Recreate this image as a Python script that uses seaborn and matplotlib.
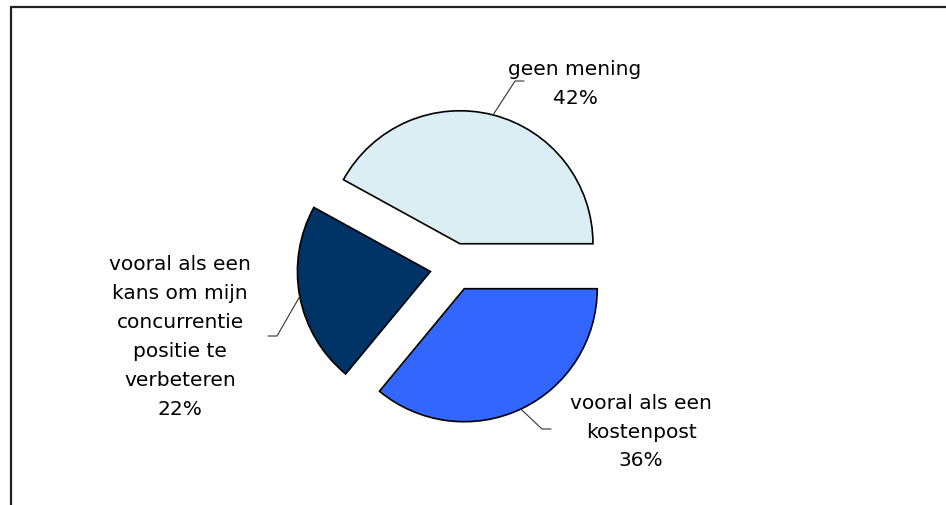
import numpy as np
import matplotlib
matplotlib.use('Agg')
import matplotlib.pyplot as plt
from matplotlib.lines import Line2D
import seaborn as sns

# data (counterclockwise from 3 o'clock)
categories = ['geen mening',
              'vooral als een\nkans om mijn\nconcurrentie\npositie te\nverbeteren',
              'vooral als een\nkostenpost']
values = [42, 22, 36]
colors = ['#DAEEF3', '#003366', '#3366FF']

sns.set_style('white')
plt.rcParams['font.family'] = ['DejaVu Sans']

W, H = 946, 505
fig = plt.figure(figsize=(W / 100, H / 100), dpi=100)
ax = fig.add_axes([0, 0, 1, 1])

# pixel-like data units, y up
center = (454, H - 267)
radius = 133
explode = [24, 24, 24]

wedges, _ = ax.pie(values, colors=colors, startangle=0, counterclock=True,
                   center=center, radius=radius, explode=explode,
                   wedgeprops=dict(edgecolor='black', linewidth=1.2))
ax.set_xlim(0, W)
ax.set_ylim(0, H)
ax.set_aspect('equal')
ax.axis('off')

# label layout: (elbow x, elbow y), tail dx, text centre (x, y) in pixel coords from top
label_layout = [
    ((515, 81), 9, (575, 84)),
    ((277, 336), -9, (180, 337)),
    ((542, 429), 9, (641, 432)),
]

for w, cat, val, (elbow, tail, txt) in zip(wedges, categories, values, label_layout):
    tm = np.deg2rad((w.theta1 + w.theta2) / 2)
    ax0 = w.center[0] + w.r * np.cos(tm)
    ay0 = w.center[1] + w.r * np.sin(tm)
    ex, ey = elbow[0], H - elbow[1]
    ax.plot([ax0, ex, ex + tail], [ay0, ey, ey], color='#333333', lw=0.8)
    ax.text(txt[0], H - txt[1], f'{cat}\n{val}%', ha='center', va='center',
            multialignment='center', fontsize=14.5, linespacing=1.66, color='black')

# outer frame (top and left edge only visible)
fig.add_artist(Line2D([11 / W, 1], [1 - 7 / H, 1 - 7 / H], color='#222222', lw=1.6))
fig.add_artist(Line2D([11 / W, 11 / W], [0, 1 - 7 / H], color='#222222', lw=1.6))

fig.savefig('out.png', dpi=100)
